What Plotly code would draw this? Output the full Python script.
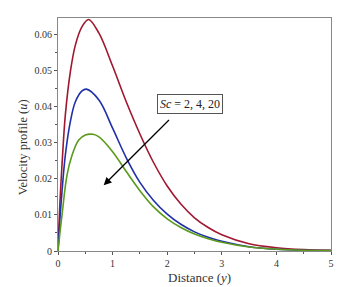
import plotly.graph_objects as go

# Sc = 2 (red)
red_x = [0, 0.035, 0.073, 0.134, 0.226, 0.318, 0.44, 0.56, 0.75, 1.0, 1.25, 1.5, 1.75, 2.0, 2.25, 2.5, 2.75, 3.0, 3.5, 4.0, 4.5, 5]
red_u = [0, 0.0132, 0.0238, 0.0376, 0.0496, 0.0570, 0.0621, 0.0641, 0.0603, 0.0512, 0.0413, 0.0324, 0.0245, 0.0180, 0.0130, 0.0092, 0.0065, 0.0045, 0.0020, 0.0009, 0.0004, 0.0002]

# Sc = 4 (blue)
blue_x = [0, 0.035, 0.073, 0.134, 0.226, 0.318, 0.44, 0.52, 0.75, 1.0, 1.25, 1.5, 1.75, 2.0, 2.25, 2.5, 2.75, 3.0, 3.5, 4.0, 4.5, 5]
blue_u = [0, 0.0088, 0.0164, 0.0265, 0.0358, 0.0413, 0.0443, 0.0448, 0.0418, 0.0340, 0.0258, 0.0190, 0.0140, 0.0102, 0.0074, 0.0053, 0.0038, 0.0027, 0.0012, 0.0005, 0.0002, 0.0001]

# Sc = 20 (green)
green_x = [0, 0.035, 0.073, 0.165, 0.257, 0.38, 0.5, 0.64, 0.75, 1.0, 1.25, 1.5, 1.75, 2.0, 2.25, 2.5, 2.75, 3.0, 3.5, 4.0, 4.5, 5]
green_u = [0, 0.0050, 0.0099, 0.0210, 0.0265, 0.0307, 0.0321, 0.0323, 0.0316, 0.0275, 0.0220, 0.0167, 0.0122, 0.0089, 0.0065, 0.0047, 0.0034, 0.0024, 0.0011, 0.0005, 0.0002, 0.0001]

x_ticks = [0, 1, 2, 3, 4, 5]
y_ticks = [0, 0.01, 0.02, 0.03, 0.04, 0.05, 0.06]
y_tick_labels = ["0", "0.01", "0.02", "0.03", "0.04", "0.05", "0.06"]

label_text = "<i>Sc</i> = 2, 4, 20"

serif = "Liberation Serif"

fig = go.Figure()
for xs, us, col in [(red_x, red_u, "#A01830"),
                    (blue_x, blue_u, "#2030A8"),
                    (green_x, green_u, "#5A9A1C")]:
    fig.add_trace(go.Scatter(x=xs, y=us, mode="lines",
                             line=dict(color=col, width=1.6, shape="spline", smoothing=1.0),
                             showlegend=False, hoverinfo="skip"))

axis_common = dict(showline=True, mirror=True, linecolor="#888888", linewidth=1,
                   showgrid=False, zeroline=False, ticks="outside", ticklen=3,
                   tickcolor="#555555",
                   tickfont=dict(family=serif, size=10, color="#333333"))

fig.update_xaxes(range=[0, 5], tickvals=x_ticks, ticktext=[str(v) for v in x_ticks],
                 minor=dict(dtick=0.5, ticks="outside", ticklen=2, tickcolor="#555555"),
                 **axis_common)
fig.update_yaxes(range=[0, 0.0645], tickvals=y_ticks, ticktext=y_tick_labels,
                 minor=dict(dtick=0.005, ticks="outside", ticklen=2, tickcolor="#555555"),
                 **axis_common)

fig.add_annotation(x=0.837, y=0.0182, ax=2.06, ay=0.0367, axref="x", ayref="y",
                   xref="x", yref="y", text="", showarrow=True,
                   arrowhead=2, arrowsize=1.2, arrowwidth=1.3, arrowcolor="black")

fig.add_annotation(x=2.41, y=0.0408, xref="x", yref="y", text=label_text,
                   showarrow=False, font=dict(family=serif, size=12, color="#222222"),
                   bordercolor="#555555", borderwidth=1, borderpad=2, bgcolor="white")

fig.add_annotation(x=0.52, y=-0.112, xref="paper", yref="paper",
                   text="Distance (<i>y</i>)", showarrow=False,
                   font=dict(family=serif, size=13, color="#333333"),
                   xanchor="center", yanchor="middle")
fig.add_annotation(x=-0.128, y=0.446, xref="paper", yref="paper",
                   text="Velocity profile (<i>u</i>)", showarrow=False, textangle=-90,
                   font=dict(family=serif, size=12.5, color="#333333"),
                   xanchor="center", yanchor="middle")

# page body has an 8px margin; compensate so the plot area lands where the reference has it
fig.update_layout(width=340, height=279, margin=dict(l=50, r=17, t=10, b=36),
                  plot_bgcolor="white", paper_bgcolor="white")

fig.write_html("out.html")
